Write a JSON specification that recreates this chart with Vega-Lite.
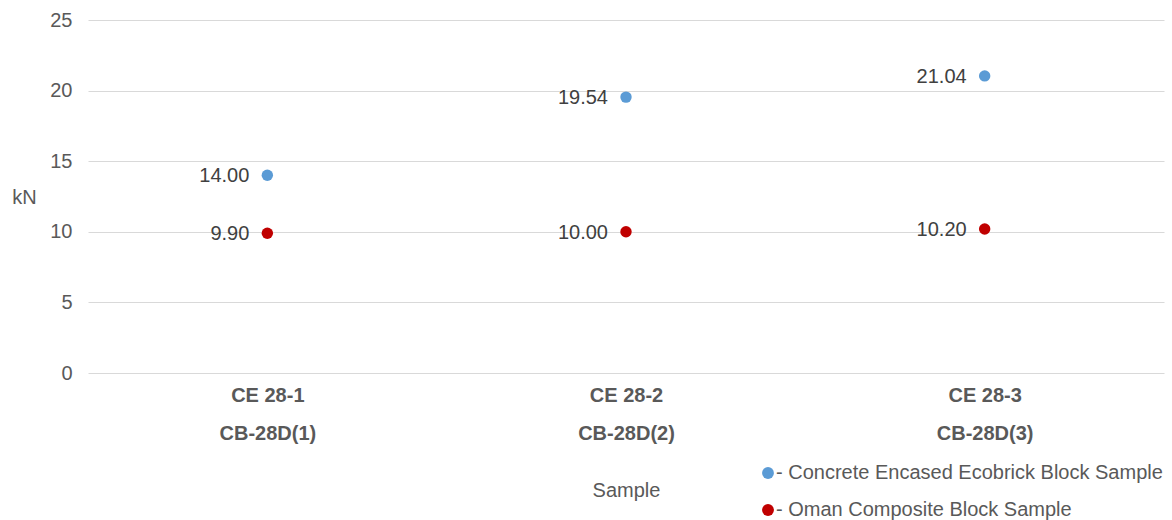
{
  "$schema": "https://vega.github.io/schema/vega-lite/v6.json",
  "width": 1076,
  "height": 353,
  "autosize": {"type": "none"},
  "padding": {"left": 88, "top": 20, "right": 8, "bottom": 147},
  "background": "white",
  "config": {
    "view": {"stroke": null},
    "font": "Liberation Sans"
  },
  "data": {
    "values": [
      {"sample": "CE 28-1|CB-28D(1)", "series": "- Concrete Encased Ecobrick Block Sample", "kN": 14.00},
      {"sample": "CE 28-2|CB-28D(2)", "series": "- Concrete Encased Ecobrick Block Sample", "kN": 19.54},
      {"sample": "CE 28-3|CB-28D(3)", "series": "- Concrete Encased Ecobrick Block Sample", "kN": 21.04},
      {"sample": "CE 28-1|CB-28D(1)", "series": "- Oman Composite Block Sample", "kN": 9.90},
      {"sample": "CE 28-2|CB-28D(2)", "series": "- Oman Composite Block Sample", "kN": 10.00},
      {"sample": "CE 28-3|CB-28D(3)", "series": "- Oman Composite Block Sample", "kN": 10.20}
    ]
  },
  "encoding": {
    "x": {
      "field": "sample",
      "type": "nominal",
      "sort": null,
      "scale": {"paddingInner": 0, "paddingOuter": 0},
      "axis": {
        "title": "Sample",
        "labelAngle": 0,
        "labelExpr": "split(datum.label, '|')",
        "labelFont": "Liberation Sans",
        "labelFontSize": 20,
        "labelFontWeight": "bold",
        "labelColor": "#595959",
        "labelLineHeight": 38,
        "labelPadding": 12,
        "labelBaseline": "top",
        "domain": false,
        "ticks": false,
        "grid": false,
        "titleFont": "Liberation Sans",
        "titleFontSize": 20,
        "titleFontWeight": "normal",
        "titleColor": "#595959",
        "titleBaseline": "middle",
        "titleY": 117
      }
    },
    "y": {
      "field": "kN",
      "type": "quantitative",
      "scale": {"domain": [0, 25], "nice": false},
      "axis": {
        "title": "kN",
        "values": [0, 5, 10, 15, 20, 25],
        "domain": false,
        "ticks": false,
        "gridColor": "#d9d9d9",
        "gridWidth": 1,
        "labelFont": "Liberation Sans",
        "labelFontSize": 20,
        "labelColor": "#595959",
        "labelPadding": 16,
        "titleFont": "Liberation Sans",
        "titleFontSize": 20,
        "titleFontWeight": "normal",
        "titleColor": "#595959",
        "titleAngle": 0,
        "titleAlign": "center",
        "titleBaseline": "middle",
        "titleX": -64,
        "titleY": 177
      }
    }
  },
  "layer": [
    {
      "mark": {"type": "point", "filled": true, "opacity": 1, "size": 130, "shape": "circle"},
      "encoding": {
        "color": {
          "field": "series",
          "type": "nominal",
          "scale": {"domain": ["- Concrete Encased Ecobrick Block Sample", "- Oman Composite Block Sample"], "range": ["#5B9BD5", "#C00000"]},
          "legend": {
            "title": null,
            "orient": "none",
            "legendX": 670,
            "legendY": 443,
            "symbolType": "circle",
            "symbolSize": 140,
            "symbolStrokeWidth": 0,
            "labelFont": "Liberation Sans",
            "labelFontSize": 20,
            "labelColor": "#595959",
            "labelOffset": -2,
            "labelLimit": 0,
            "rowPadding": 17
          }
        }
      }
    },
    {
      "mark": {"type": "text", "align": "right", "baseline": "middle", "dx": -18, "dy": 1, "fontSize": 20, "font": "Liberation Sans", "color": "#404040"},
      "encoding": {
        "text": {"field": "kN", "type": "quantitative", "format": ".2f"}
      }
    }
  ]
}
